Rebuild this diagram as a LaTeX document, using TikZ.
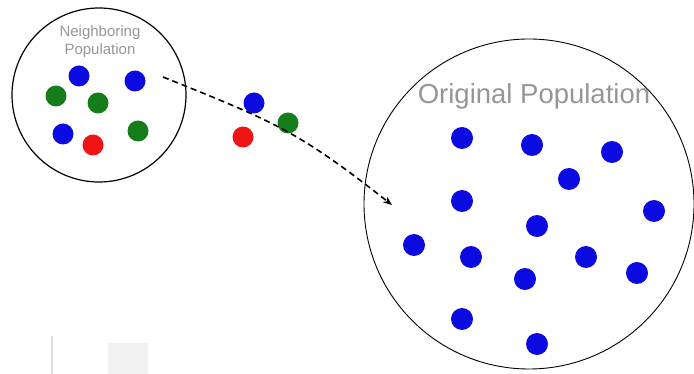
\documentclass[tikz,border=0pt]{standalone}
\usepackage{fontspec}
\setmainfont{Liberation Sans}
\usetikzlibrary{arrows.meta}

\definecolor{popBlue}{RGB}{10,10,225}
\definecolor{popGreen}{RGB}{20,125,25}
\definecolor{popRed}{RGB}{240,20,20}
\definecolor{popLabel}{RGB}{150,150,150}

\begin{document}
\begin{tikzpicture}[x=1pt, y=-1pt,
  popcircle/.style={draw, circle, line width=1.2pt, inner sep=0pt},
  dot/.style={circle, inner sep=0pt, minimum size=21pt},
  poplabel/.style={text=popLabel, align=center}]
\useasboundingbox (0,0) rectangle (694,374);
%% Panel A: neighboring population
\begin{scope}
  \node[popcircle, minimum size=174pt] (neigh) at (99,95) {};
  \node[poplabel, font=\fontsize{15}{18}\selectfont] (neighlabel) at (100,42)
    {Neighboring\\Population};
  \node[dot, fill=popBlue]  (nb1) at (79,76) {};
  \node[dot, fill=popBlue]  (nb2) at (135,81) {};
  \node[dot, fill=popGreen] (ng1) at (56,96) {};
  \node[dot, fill=popGreen] (ng2) at (98,103) {};
  \node[dot, fill=popBlue]  (nb3) at (63,134) {};
  \node[dot, fill=popRed]   (nr1) at (93,145) {};
  \node[dot, fill=popGreen] (ng3) at (138,131) {};
\end{scope}
%% migrants on the way
\node[dot, fill=popBlue]  (mb) at (254,103) {};
\node[dot, fill=popGreen] (mg) at (288,123) {};
\node[dot, fill=popRed]   (mr) at (243,137) {};
%% Panel B: original population
\begin{scope}
  \node[popcircle, line width=0.9pt, minimum size=330pt] (orig) at (529,204) {};
  \node[poplabel, font=\fontsize{27.5}{32}\selectfont] (origlabel) at (534,96)
    {Original Population};
  \foreach \px/\py [count=\i] in {462/138, 532/145, 612/152, 569/179, 462/201,
      654/211, 537/226, 414/245, 471/257, 586/257, 525/279, 637/273,
      462/319, 537/344}
    \node[dot, fill=popBlue, minimum size=22pt] (ob\i) at (\px,\py) {};
\end{scope}
%% migration arrow
\coordinate (mstart) at (163,77);
\coordinate (mend) at (392,205);
\draw[line width=1.6pt, dash pattern=on 6pt off 4pt, -{Stealth[length=9pt,width=7pt]}]
  (mstart) .. controls (275,122) and (298,131) .. (mend);
%% faint marks at the bottom
\draw[black!12, line width=1.5pt] (52,336) -- (52,374);
\fill[black!6] (108,343) rectangle (148,374);
\end{tikzpicture}
\end{document}
